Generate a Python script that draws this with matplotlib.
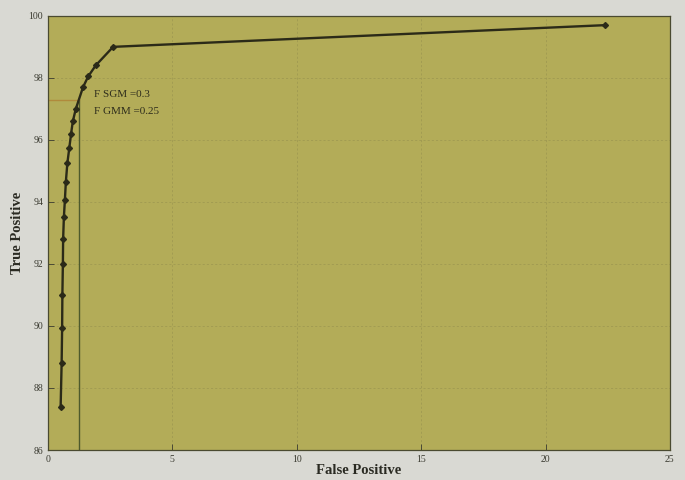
import matplotlib
matplotlib.use("Agg")
import matplotlib.pyplot as plt

# ROC-like curve
false_pos = [0.51, 0.55, 0.57, 0.58, 0.60, 0.61, 0.64, 0.68, 0.72, 0.78,
             0.86, 0.93, 1.00, 1.12, 1.41, 1.62, 1.92, 2.62, 22.4]
true_pos = [87.4, 88.8, 89.95, 91.0, 92.0, 92.8, 93.5, 94.05, 94.65, 95.25,
            95.75, 96.2, 96.6, 97.0, 97.7, 98.05, 98.4, 99.0, 99.7]

# operating point marked by the cross lines
op_x = 1.25
op_y = 97.3
notes = ["F SGM =0.3", "F GMM =0.25"]

x_ticks = [0, 5, 10, 15, 20, 25]
y_ticks = [86, 88, 90, 92, 94, 96, 98, 100]

serif = ["Liberation Serif", "DejaVu Serif"]

fig = plt.figure(figsize=(6.85, 4.8), dpi=100, facecolor="#d9d9d3")
ax = fig.add_axes([0.070, 0.0625, 0.908, 0.9045], facecolor="#b3ac58")

ax.grid(True, color="#9c9650", linestyle=(0, (3, 3)), linewidth=0.5)
ax.set_axisbelow(True)

ax.plot(false_pos, true_pos, color="#2b2a18", linewidth=1.7, marker="D", markersize=3,
        markerfacecolor="#2b2a18", markeredgecolor="#2b2a18", zorder=3)

ax.plot([op_x, op_x], [86, op_y], color="#4e5a2c", linewidth=1.0, zorder=2)
ax.plot([0, op_x], [op_y, op_y], color="#b08a3c", linewidth=1.0, zorder=2)

for i, t in enumerate(notes):
    ax.text(1.85, 97.45 - i * 0.55, t, fontsize=8, family=serif, color="#2e2d1c", va="center")

ax.set_xlim(0, 25)
ax.set_ylim(86, 100)
ax.set_xticks(x_ticks)
ax.set_yticks(y_ticks)
ax.tick_params(labelsize=7, colors="#3a3a30", length=4, width=0.6, direction="in")
for lab in ax.get_xticklabels() + ax.get_yticklabels():
    lab.set_family(serif)

for s in ax.spines.values():
    s.set_color("#4a4a30")
    s.set_linewidth(0.9)

ax.set_xlabel("False Positive", fontsize=10.5, fontweight="bold", family=serif, color="#2a2a22", labelpad=0)
ax.set_ylabel("True Positive", fontsize=10.5, fontweight="bold", family=serif, color="#2a2a22", labelpad=3)

fig.savefig("out.png", dpi=100, facecolor=fig.get_facecolor())
